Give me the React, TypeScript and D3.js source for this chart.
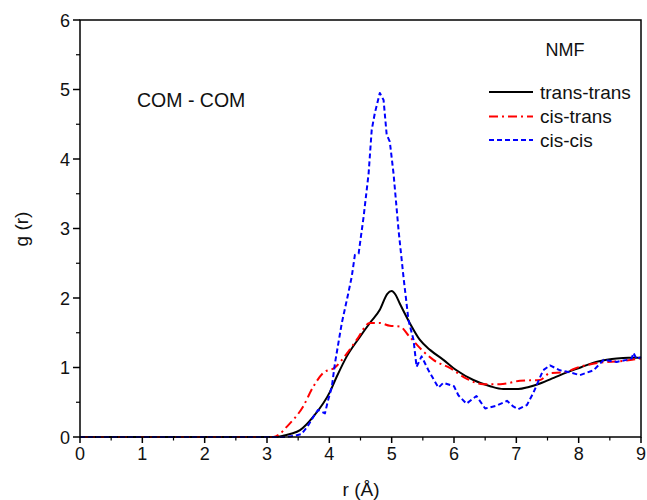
import React from "react";
import * as d3 from "d3";

const transR = [0, 3.0, 3.15, 3.26, 3.4, 3.53, 3.74, 4.01, 4.12, 4.28, 4.49, 4.65, 4.81, 4.93, 5.0, 5.06, 5.13, 5.29, 5.45, 5.62, 5.83, 6.04, 6.31, 6.58, 6.79, 7.03, 7.2, 7.38, 7.6, 7.81, 8.03, 8.24, 8.45, 8.61, 8.8, 9.0];
const transG = [0, 0, 0.0, 0.02, 0.05, 0.1, 0.29, 0.65, 0.87, 1.16, 1.44, 1.64, 1.83, 2.06, 2.1, 2.05, 1.92, 1.64, 1.4, 1.25, 1.11, 0.96, 0.82, 0.73, 0.69, 0.69, 0.72, 0.77, 0.85, 0.93, 1.0, 1.07, 1.11, 1.13, 1.14, 1.14];

const cisTransR = [0, 3.1, 3.2, 3.32, 3.58, 3.74, 3.9, 4.09, 4.28, 4.44, 4.65, 4.81, 4.97, 5.13, 5.29, 5.51, 5.67, 5.94, 6.2, 6.47, 6.74, 6.9, 7.06, 7.38, 7.54, 7.75, 8.02, 8.34, 8.66, 9.0];
const cisTransG = [0, 0, 0.04, 0.15, 0.44, 0.72, 0.92, 1.0, 1.2, 1.4, 1.64, 1.64, 1.6, 1.59, 1.44, 1.23, 1.11, 0.99, 0.84, 0.76, 0.76, 0.78, 0.81, 0.82, 0.92, 0.93, 1.01, 1.07, 1.09, 1.13];

const cisCisR = [0, 3.3, 3.45, 3.55, 3.65, 3.75, 3.82, 3.93, 3.98, 4.04, 4.09, 4.2, 4.3, 4.36, 4.41, 4.47, 4.55, 4.63, 4.68, 4.73, 4.81, 4.87, 4.92, 4.97, 5.03, 5.11, 5.19, 5.27, 5.35, 5.4, 5.48, 5.59, 5.75, 5.83, 6.0, 6.07, 6.2, 6.36, 6.5, 6.68, 6.85, 6.95, 7.03, 7.17, 7.27, 7.43, 7.54, 7.7, 7.86, 8.02, 8.24, 8.4, 8.61, 8.77, 8.85, 8.88, 8.93, 9.0];
const cisCisG = [0, 0, 0.02, 0.04, 0.15, 0.3, 0.39, 0.34, 0.53, 0.72, 1.06, 1.64, 2.05, 2.31, 2.62, 2.64, 3.17, 3.79, 4.42, 4.66, 4.95, 4.85, 4.35, 4.25, 3.79, 2.98, 2.3, 1.68, 1.4, 1.01, 1.16, 0.96, 0.71, 0.78, 0.73, 0.6, 0.48, 0.59, 0.41, 0.45, 0.52, 0.44, 0.4, 0.46, 0.63, 0.96, 1.03, 0.96, 0.93, 0.89, 0.96, 1.11, 1.08, 1.11, 1.13, 1.21, 1.12, 1.15];

const xTicks = [0, 1, 2, 3, 4, 5, 6, 7, 8, 9];
const yTicks = [0, 1, 2, 3, 4, 5, 6];
const seriesNames = ["trans-trans", "cis-trans", "cis-cis"];

const W = 647;
const H = 500;
const left = 80;
const right = 641;
const top = 20;
const bottom = 437;

export default function App() {
  const x = d3.scaleLinear().domain([0, 9]).range([left, right]);
  const y = d3.scaleLinear().domain([0, 6]).range([bottom, top]);

  const mk = (rs: number[], gs: number[]) => rs.map((r, i) => [r, gs[i]] as [number, number]);
  const smooth = d3.line<[number, number]>().x((d) => x(d[0])).y((d) => y(d[1])).curve(d3.curveMonotoneX);
  const lin = d3.line<[number, number]>().x((d) => x(d[0])).y((d) => y(d[1]));

  const series = [
    { name: seriesNames[0], d: smooth(mk(transR, transG)), color: "#000000", dash: "none" },
    { name: seriesNames[1], d: smooth(mk(cisTransR, cisTransG)), color: "#ff0000", dash: "9,4,2,4" },
    { name: seriesNames[2], d: lin(mk(cisCisR, cisCisG)), color: "#0000ff", dash: "5,3" },
  ];

  const minorX = d3.range(0, 9.01, 0.5).filter((v) => !Number.isInteger(v));
  const minorY = d3.range(0, 6.01, 0.5).filter((v) => !Number.isInteger(v));
  const font = "Liberation Sans, Arial, sans-serif";

  return (
    <svg width={W} height={H} style={{ position: "absolute", left: 0, top: 0, background: "#fff" }}>
      <rect x={0} y={0} width={W} height={H} fill="#fff" />
      {series.map((s) => (
        <path key={s.name} d={s.d || ""} fill="none" stroke={s.color} strokeWidth={2} strokeDasharray={s.dash} strokeLinejoin="round" />
      ))}
      <rect x={left} y={top} width={right - left} height={bottom - top} fill="none" stroke="#000" strokeWidth={1.5} />
      {xTicks.map((t) => (
        <g key={"xt" + t}>
          <line x1={x(t)} x2={x(t)} y1={bottom} y2={bottom + 6} stroke="#000" strokeWidth={1.5} />
          <text x={x(t)} y={460} textAnchor="middle" fontFamily={font} fontSize={18} fill="#111">{t}</text>
        </g>
      ))}
      {minorX.map((t) => (
        <line key={"xm" + t} x1={x(t)} x2={x(t)} y1={bottom} y2={bottom + 3.5} stroke="#000" strokeWidth={1.2} />
      ))}
      {yTicks.map((t) => (
        <g key={"yt" + t}>
          <line x1={left - 7} x2={left} y1={y(t)} y2={y(t)} stroke="#000" strokeWidth={1.5} />
          <text x={70} y={y(t) + 6.5} textAnchor="end" fontFamily={font} fontSize={18} fill="#111">{t}</text>
        </g>
      ))}
      {minorY.map((t) => (
        <line key={"ym" + t} x1={left - 4} x2={left} y1={y(t)} y2={y(t)} stroke="#000" strokeWidth={1.2} />
      ))}
      <text x={361} y={496} textAnchor="middle" fontFamily={font} fontSize={19} fill="#111">r (Å)</text>
      <text transform="translate(28,229) rotate(-90)" textAnchor="middle" fontFamily={font} fontSize={19} fill="#111">g (r)</text>
      <text x={137} y={107} fontFamily={font} fontSize={19.5} fill="#111">COM - COM</text>
      <text x={565} y={56} textAnchor="middle" fontFamily={font} fontSize={18} fill="#111">NMF</text>
      {series.map((s, i) => {
        const ly = [92, 116.5, 140][i];
        return (
          <g key={"lg" + s.name}>
            <line x1={489} x2={533} y1={ly} y2={ly} stroke={s.color} strokeWidth={2} strokeDasharray={s.dash} />
            <text x={540} y={ly + 6.5} fontFamily={font} fontSize={19} fill="#111">{s.name}</text>
          </g>
        );
      })}
    </svg>
  );
}
